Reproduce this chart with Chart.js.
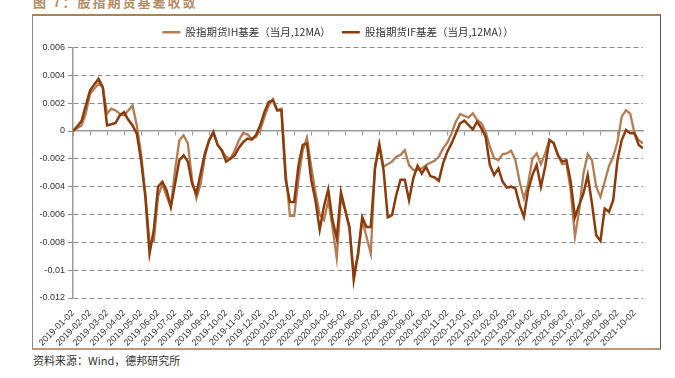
<!DOCTYPE html>
<html>
<head>
<meta charset="utf-8">
<script src="https://cdn.jsdelivr.net/npm/chart.js@4.4.2/dist/chart.umd.min.js"></script>
<style>
  html, body { margin: 0; padding: 0; background: #fff; }
  body { width: 675px; height: 378px; position: relative; overflow: hidden; font-family: "Noto Sans CJK SC", sans-serif; }
  #title { position: absolute; left: 33px; top: -6px; font-size: 13px; line-height: 16px; font-weight: bold; color: #b48c64; letter-spacing: 2px; white-space: nowrap; }
  #frame { position: absolute; left: 32px; top: 14px; width: 627px; height: 332px; border-left: 1px solid #8a8a8a; border-right: 1px solid #555; border-top: 2px solid #a9825c; border-bottom: 2px solid #b8997a; }
  #wrap { position: absolute; left: 33px; top: 16px; width: 626px; height: 332px; }
  #source { position: absolute; left: 33px; top: 352px; font-size: 11px; line-height: 16px; color: #333; white-space: nowrap; }
</style>
</head>
<body>
<div id="title">图 7：股指期货基差收敛</div>
<div id="frame"></div>
<div id="wrap"><canvas id="basisChart" width="626" height="332"></canvas></div>
<div id="source">资料来源：Wind，德邦研究所</div>
<script>
// one point every quarter month, starting 2019-01-02
const STEP_MONTHS = 0.25;

const monthLabels = [
  '2019-01-02', '2019-02-02', '2019-03-02', '2019-04-02', '2019-05-02', '2019-06-02',
  '2019-07-02', '2019-08-02', '2019-09-02', '2019-10-02', '2019-11-02', '2019-12-02',
  '2020-01-02', '2020-02-02', '2020-03-02', '2020-04-02', '2020-05-02', '2020-06-02',
  '2020-07-02', '2020-08-02', '2020-09-02', '2020-10-02', '2020-11-02', '2020-12-02',
  '2021-01-02', '2021-02-02', '2021-03-02', '2021-04-02', '2021-05-02', '2021-06-02',
  '2021-07-02', '2021-08-02', '2021-09-02', '2021-10-02'
];

const yTicks = [-0.012, -0.01, -0.008, -0.006, -0.004, -0.002, 0, 0.002, 0.004, 0.006];

// 股指期货IH基差（当月,12MA）
const ihBasis = [
  0, 0.0002, 0.0004, 0.00124, 0.00268, 0.00303, 0.0034, 0.00315, 0.00124, 0.0016,
  0.00148, 0.00124, 0.00112, 0.00148, 0.00184, 0.0004, -0.00162, -0.0045, -0.008, -0.0079,
  -0.0047, -0.0038, -0.0047, -0.00545, -0.0028, -0.00067, -0.00031, -0.0009, -0.0035, -0.00485,
  -0.0038, -0.00186, -0.00067, -0.00014, -0.001, -0.0014, -0.00186, -0.002, -0.0014, -0.00067,
  -0.00014, -0.00024, -0.00055, -0.00043, 0.00005, 0.001, 0.00184, 0.0023, 0.00148, 0.0016,
  -0.003, -0.0061, -0.0061, -0.0035, -0.0014, -0.00048, -0.00256, -0.0044, -0.006, -0.0064,
  -0.005, -0.0069, -0.00915, -0.0048, -0.0057, -0.0071, -0.0102, -0.009, -0.0064, -0.0076,
  -0.0088, -0.0025, -0.0009, -0.00257, -0.00238, -0.0022, -0.00185, -0.00173, -0.00137, -0.00245,
  -0.00281, -0.00281, -0.00269, -0.00245, -0.00228, -0.00214, -0.00185, -0.00125, -0.00084, -0.00017,
  0.00067, 0.00122, 0.00108, 0.00098, 0.00127, 0.00079, 0.00055, -0.00005, -0.00113, -0.00197,
  -0.00209, -0.00166, -0.00161, -0.00142, -0.00209, -0.00365, -0.00485, -0.00377, -0.00197, -0.00161,
  -0.00238, -0.00161, -0.00065, -0.00084, -0.00173, -0.00238, -0.00233, -0.00425, -0.0076, -0.00569,
  -0.00305, -0.00166, -0.00209, -0.004, -0.00473, -0.00365, -0.00252, -0.00185, -0.00077, 0.00103,
  0.0015, 0.00125, -0.00017, -0.00065, -0.0009
];

// 股指期货IF基差（当月,12MA）
const ifBasis = [
  0, 0.00033, 0.00072, 0.0018, 0.0029, 0.00335, 0.00375, 0.00315, 0.0004, 0.00048,
  0.00057, 0.00112, 0.00136, 0.0008, 0.0004, -0.00019, -0.0021, -0.0047, -0.0088, -0.0071,
  -0.004, -0.00365, -0.00425, -0.00545, -0.0038, -0.0021, -0.00175, -0.0022, -0.0038, -0.0045,
  -0.00305, -0.0016, -0.00067, -0.00007, -0.001, -0.0014, -0.0022, -0.002, -0.00175, -0.0012,
  -0.0008, -0.00055, -0.00062, -0.0003, 0.0004, 0.00136, 0.00208, 0.0022, 0.00148, 0.0015,
  -0.0035, -0.0051, -0.0051, -0.0025, -0.001, -0.0009, -0.0035, -0.005, -0.0071, -0.0054,
  -0.0042, -0.0064, -0.0077, -0.0044, -0.0057, -0.0069, -0.0107, -0.0088, -0.0062, -0.0069,
  -0.0069, -0.0027, -0.001, -0.0028, -0.0062, -0.00605, -0.0046, -0.0035, -0.0035, -0.00497,
  -0.0034, -0.0025, -0.00305, -0.00257, -0.00324, -0.00334, -0.00358, -0.00233, -0.00149, -0.00089,
  -0.00017, 0.00055, 0.00074, 0.00043, 0.00012, 0.00067, 0.00019, -0.00041, -0.00245, -0.00317,
  -0.00269, -0.00365, -0.00406, -0.004, -0.00413, -0.00533, -0.00617, -0.00425, -0.00317, -0.00245,
  -0.004, -0.00257, -0.00065, -0.00089, -0.00173, -0.0022, -0.00209, -0.00365, -0.0062, -0.00533,
  -0.00449, -0.00317, -0.00521, -0.0075, -0.0079, -0.00557, -0.00581, -0.00497, -0.00209, -0.00065,
  0.00007, -0.00017, -0.00017, -0.001, -0.00125
];

const toPoints = values => values.map((v, i) => ({ x: i * STEP_MONTHS, y: v }));
const xMax = (ihBasis.length - 1) * STEP_MONTHS;
const monthTicks = scale => { scale.ticks = monthLabels.map((label, i) => ({ value: i })); };
const gridGrey = '#8c8c8c';

new Chart(document.getElementById('basisChart'), {
  type: 'line',
  data: {
    datasets: [{
      label: '股指期货IH基差（当月,12MA）',
      data: toPoints(ihBasis),
      borderColor: '#b47c50',
      borderWidth: 2.3,
      order: 1,
      xAxisID: 'x',
      yAxisID: 'y'
    }, {
      label: '股指期货IF基差（当月,12MA））',
      data: toPoints(ifBasis),
      borderColor: '#8c3c0c',
      borderWidth: 2.5,
      order: 0,
      xAxisID: 'x',
      yAxisID: 'y'
    }]
  },
  options: {
    responsive: false,
    animation: false,
    devicePixelRatio: 1,
    elements: {
      point: { radius: 0 },
      line: { tension: 0 }
    },
    layout: {
      padding: { left: 0, right: 16, top: 0, bottom: 0 }
    },
    plugins: {
      tooltip: { enabled: false },
      legend: {
        position: 'top',
        labels: {
          usePointStyle: true,
          pointStyle: 'line',
          pointStyleWidth: 18,
          padding: 11,
          color: '#333',
          font: { family: '"Noto Sans CJK SC", sans-serif', size: 10.5 },
          sort: (a, b) => a.datasetIndex - b.datasetIndex
        }
      }
    },
    scales: {
      x: {
        type: 'linear',
        position: { y: 0 },
        min: 0,
        max: xMax,
        afterBuildTicks: monthTicks,
        ticks: { display: false },
        grid: { drawOnChartArea: false, drawTicks: true, tickLength: 4, tickColor: '#999' },
        border: { color: '#999', width: 1.5 }
      },
      xLabels: {
        type: 'linear',
        axis: 'x',
        position: 'bottom',
        min: 0,
        max: xMax,
        afterBuildTicks: monthTicks,
        afterFit: scale => { scale.height = 50; },
        ticks: {
          autoSkip: false,
          minRotation: 45,
          maxRotation: 45,
          padding: 2,
          color: '#333',
          font: { family: '"Liberation Sans", Arial, sans-serif', size: 9 },
          callback: value => monthLabels[value]
        },
        grid: { display: false },
        border: { display: false }
      },
      y: {
        min: -0.012,
        max: 0.006,
        afterBuildTicks: scale => { scale.ticks = yTicks.map(v => ({ value: v })); },
        afterFit: scale => { scale.width = 40; },
        ticks: {
          padding: 3,
          color: '#333',
          font: { family: '"Liberation Sans", Arial, sans-serif', size: 9 },
          callback: value => String(value)
        },
        grid: {
          color: ctx => ctx.tick && ctx.tick.value === 0 ? 'rgba(0,0,0,0)' : gridGrey,
          tickColor: gridGrey,
          tickLength: 5,
          tickBorderDash: []
        },
        border: {
          color: '#999',
          width: 1.5,
          dash: ctx => (ctx.tick && ctx.tick.value === 0) ? [] : [5, 3]
        }
      }
    }
  }
});
</script>
</body>
</html>
